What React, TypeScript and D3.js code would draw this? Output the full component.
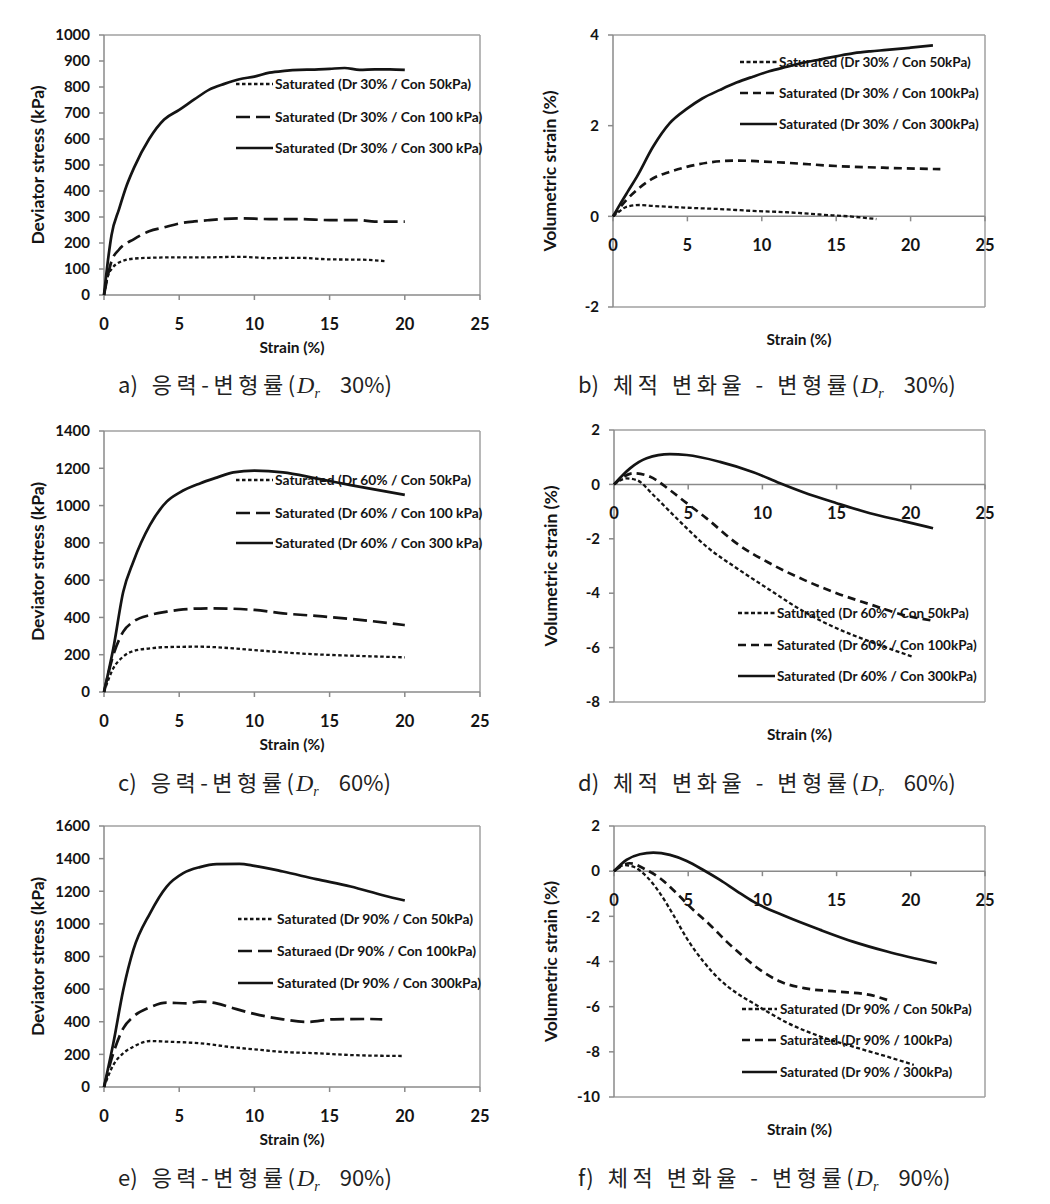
import React from "react";
import * as d3 from "d3";

type Pt = [number, number];

// ---------- data ----------
const xTicks = [0, 5, 10, 15, 20, 25];

// a) stress-strain Dr 30%
const a50: Pt[] = [[0,0],[0.3,80],[0.5,100],[1,125],[2,140],[3,143],[5,145],[7,145],[9,147],[11,142],[13,143],[15,137],[17,136],[18.8,130]];
const a100: Pt[] = [[0,0],[0.5,130],[1,175],[2,215],[3,245],[4,260],[5,275],[6,283],[7,288],[9,295],[11,292],[13,292],[15,288],[17,288],[18,282],[20,282]];
const a300: Pt[] = [[0,0],[0.3,150],[0.5,230],[1,330],[1.5,420],[2,490],[3,600],[4,675],[5,712],[6,752],[7,790],[8,812],[9,830],[10,840],[11,855],[12,862],[13,866],[14,867],[15,870],[16,873],[17,866],[18,868],[19,868],[20,866]];

// b) volumetric strain Dr 30%
const b50: Pt[] = [[0,0],[0.4,0.1],[0.9,0.21],[1.8,0.25],[2.7,0.23],[4.95,0.19],[7.2,0.16],[9.4,0.12],[11.7,0.09],[13.9,0.04],[16.2,-0.01],[17.7,-0.06]];
const b100: Pt[] = [[0,0],[0.9,0.36],[1.6,0.58],[2.7,0.84],[3.8,0.98],[4.95,1.09],[6.5,1.19],[8.3,1.23],[10,1.21],[11.7,1.18],[15,1.11],[18.4,1.07],[22,1.04]];
const b300: Pt[] = [[0,0],[0.5,0.28],[1,0.55],[1.6,0.87],[2.7,1.54],[3.8,2.05],[5,2.38],[6,2.6],[7.2,2.79],[8.3,2.95],[9.4,3.08],[10.5,3.2],[11.7,3.3],[12.8,3.39],[13.9,3.46],[15,3.53],[16.2,3.6],[17.3,3.64],[18.4,3.67],[20,3.72],[21.5,3.77]];

// c) stress-strain Dr 60%
const c50: Pt[] = [[0,0],[0.62,127],[1.28,190],[1.95,220],[3.06,234],[4.17,241],[6.38,243],[8.6,234],[10,225],[11.9,213],[14.1,202],[16.4,195],[20,186]];
const c100: Pt[] = [[0,0],[0.62,198],[1.28,324],[1.95,377],[3.06,413],[4.17,431],[5.27,443],[7.05,449],[10,440],[11.9,422],[14.1,408],[16.4,392],[20,359]];
const c300: Pt[] = [[0,0],[0.62,234],[1.28,538],[1.95,699],[3.06,896],[4.17,1021],[5.05,1071],[6.38,1119],[7.49,1150],[8.6,1178],[10,1187],[11.9,1178],[14.1,1146],[16.4,1110],[20,1057]];

// d) volumetric strain Dr 60%
const d50: Pt[] = [[0,0],[0.84,0.22],[1.53,0.16],[2.65,-0.39],[3.77,-1.0],[4.9,-1.61],[6.24,-2.29],[8.27,-3.08],[10.5,-3.88],[12.8,-4.68],[15,-5.29],[17.25,-5.78],[20.1,-6.33]];
const d100: Pt[] = [[0,0],[0.7,0.3],[1.3,0.41],[2.44,0.28],[3.77,-0.21],[4.9,-0.69],[6.24,-1.25],[8.27,-2.17],[10.5,-2.9],[12.8,-3.51],[15,-4.0],[17.25,-4.41],[19.5,-4.8],[21.5,-5.01]];
const d300: Pt[] = [[0,0],[1.08,0.59],[2.2,0.96],[3.77,1.11],[4.9,1.08],[7.14,0.83],[9.39,0.45],[11.19,0.04],[12.76,-0.29],[15,-0.69],[17.25,-1.06],[19.5,-1.35],[21.5,-1.61]];

// e) stress-strain Dr 90%
const e50: Pt[] = [[0,0],[0.62,135],[1.28,207],[1.95,247],[3.06,282],[4.17,278],[6.38,268],[8.6,243],[10,231],[11.9,215],[14.1,207],[16.4,196],[19.9,190]];
const e100: Pt[] = [[0,0],[0.62,207],[1.28,360],[1.95,431],[3.06,489],[4.17,517],[5.5,513],[6.38,523],[7.49,513],[8.6,483],[10,448],[11.9,415],[13.5,399],[15.25,415],[17.5,417],[18.5,415]];
const e300: Pt[] = [[0,0],[0.62,268],[1.28,595],[1.95,840],[3.06,1065],[4.17,1229],[5.27,1311],[6.38,1348],[7.49,1366],[9,1368],[10,1356],[11.9,1321],[14.1,1274],[16.4,1229],[18.6,1174],[20,1143]];

// f) volumetric strain Dr 90%
const f50: Pt[] = [[0,0],[0.7,0.27],[1.3,0.2],[2.2,-0.24],[3.1,-0.98],[4.0,-1.94],[4.9,-2.97],[6.02,-4.0],[7.14,-4.81],[8.27,-5.4],[9.39,-5.85],[10.5,-6.29],[11.6,-6.69],[13.9,-7.32],[16.1,-7.77],[18.4,-8.21],[20.2,-8.58]];
const f100: Pt[] = [[0,0],[1.06,0.35],[2.2,0.05],[3.1,-0.31],[4.22,-0.98],[5.35,-1.72],[6.47,-2.38],[7.59,-3.12],[8.72,-3.78],[9.84,-4.37],[11.2,-4.89],[12.8,-5.18],[15,-5.33],[17.25,-5.48],[18.4,-5.7]];
const f300: Pt[] = [[0,0],[0.84,0.5],[1.75,0.75],[2.65,0.82],[3.77,0.72],[4.9,0.45],[6.02,0.05],[7.14,-0.39],[8.27,-0.88],[9.39,-1.35],[11.6,-2.01],[13.9,-2.6],[16.1,-3.12],[18.4,-3.56],[21.75,-4.08]];

const legendA = ["Saturated (Dr 30% / Con 50kPa)", "Saturated (Dr 30% / Con 100 kPa)", "Saturated (Dr 30% / Con 300 kPa)"];
const legendB = ["Saturated (Dr 30% / Con 50kPa)", "Saturated (Dr 30% / Con 100kPa)", "Saturated (Dr 30% / Con 300kPa)"];
const legendC = ["Saturated (Dr 60% / Con 50kPa)", "Saturated (Dr 60% / Con 100 kPa)", "Saturated (Dr 60% / Con 300 kPa)"];
const legendD = ["Saturated (Dr 60% / Con 50kPa)", "Saturated (Dr 60% / Con 100kPa)", "Saturated (Dr 60% / Con 300kPa)"];
const legendE = ["Saturated (Dr 90% / Con 50kPa)", "Saturaed (Dr 90% / Con 100kPa)", "Saturated (Dr 90% / Con 300kPa)"];
const legendF = ["Saturated (Dr 90% / Con 50kPa)", "Saturated (Dr 90% / 100kPa)", "Saturated (Dr 90% / 300kPa)"];

const ticksA = [0, 100, 200, 300, 400, 500, 600, 700, 800, 900, 1000];
const ticksC = [0, 200, 400, 600, 800, 1000, 1200, 1400];
const ticksE = [0, 200, 400, 600, 800, 1000, 1200, 1400, 1600];
const ticksB = [-2, 0, 2, 4];
const ticksD = [-8, -6, -4, -2, 0, 2];
const ticksF = [-10, -8, -6, -4, -2, 0, 2];

// ---------- styling ----------
const FONT = "Lato, 'Open Sans', sans-serif";
const INK = "#141414";
const AXIS = "#8a8a8a";
const BORDER = "#a0a0a0";

interface Box { l: number; r: number; t: number; b: number; }
interface Leg { x0: number; x1: number; tx: number; ys: number[]; fs: number; }

function Panel(props: {
  box: Box; yDomain: [number, number]; yTicks: number[]; yTitle: string;
  series: Pt[][]; dashes: string[]; labels: string[]; legend: Leg; zeroAxis: boolean;
}) {
  const { box, yDomain, yTicks, yTitle, series, dashes, labels, legend, zeroAxis } = props;
  const x = d3.scaleLinear().domain([0, 25]).range([box.l, box.r]);
  const y = d3.scaleLinear().domain(yDomain).range([box.b, box.t]);
  const line = d3.line<Pt>().x(d => x(d[0])).y(d => y(d[1])).curve(d3.curveMonotoneX);
  const axisY = zeroAxis ? y(0) : box.b;
  const widths = [2.3, 2.7, 2.7];
  return (
    <g>
      {/* frame */}
      <line x1={box.l} x2={box.r} y1={box.t} y2={box.t} stroke={BORDER} strokeWidth={1.5} />
      <line x1={box.r} x2={box.r} y1={box.t} y2={box.b} stroke={BORDER} strokeWidth={1.5} />
      {zeroAxis && <line x1={box.l} x2={box.r} y1={box.b} y2={box.b} stroke={BORDER} strokeWidth={1.5} />}
      <line x1={box.l} x2={box.l} y1={box.t} y2={box.b} stroke={AXIS} strokeWidth={1.5} />
      <line x1={box.l} x2={box.r} y1={axisY} y2={axisY} stroke={AXIS} strokeWidth={1.5} />
      {/* y ticks */}
      {yTicks.map(t => (
        <g key={"y" + t}>
          <line x1={box.l - 5} x2={box.l} y1={y(t)} y2={y(t)} stroke={AXIS} strokeWidth={1.5} />
          <text x={box.l - 14} y={y(t)} dy="0.35em" textAnchor="end" fontFamily={FONT} fontWeight={700} fontSize={15} fill={INK}>{t}</text>
        </g>
      ))}
      {/* x ticks */}
      {xTicks.map(t => (
        <g key={"x" + t}>
          <line x1={x(t)} x2={x(t)} y1={axisY} y2={axisY + 5} stroke={AXIS} strokeWidth={1.5} />
          <text x={x(t)} y={axisY + 29} dy="0.35em" textAnchor="middle" fontFamily={FONT} fontWeight={700} fontSize={16.5} fill={INK}>{t}</text>
        </g>
      ))}
      {/* titles */}
      <text x={(box.l + box.r) / 2} y={zeroAxis ? box.b + 33 : box.b + 53} dy="0.35em" textAnchor="middle" fontFamily={FONT} fontWeight={700} fontSize={15.5} fill={INK}>Strain (%)</text>
      <text transform={`translate(${box.l - (zeroAxis ? 63 : 66)},${(box.t + box.b) / 2}) rotate(-90)`} dy="0.35em" textAnchor="middle" fontFamily={FONT} fontWeight={700} fontSize={17.5} fill={INK}>{yTitle}</text>
      {/* curves */}
      {series.map((s, i) => (
        <path key={"s" + i} d={line(s) || ""} fill="none" stroke={INK} strokeWidth={widths[i]} strokeDasharray={dashes[i]} strokeLinejoin="round" />
      ))}
      {/* legend */}
      {labels.map((lab, i) => (
        <g key={"l" + i}>
          <line x1={legend.x0} x2={legend.x1} y1={legend.ys[i]} y2={legend.ys[i]} stroke={INK} strokeWidth={widths[i]} strokeDasharray={dashes[i]} />
          <text x={legend.tx} y={legend.ys[i]} dy="0.35em" fontFamily={FONT} fontWeight={700} fontSize={legend.fs} fill={INK}>{lab}</text>
        </g>
      ))}
    </g>
  );
}

function Caption(props: { x: number; y: number; letter: string; body: string; pct: string }) {
  const { x, y, letter, body, pct } = props;
  return (
    <text x={x} y={y} dy="0.35em" fontFamily="'Noto Sans CJK KR', sans-serif" fontSize={22} fill="#222">
      <tspan>{letter + ")"}</tspan>
      <tspan dx={14} letterSpacing={4.5}>{body}</tspan>
      <tspan>(</tspan>
      <tspan fontFamily="'Liberation Serif', serif" fontStyle="italic" fontSize={24} dx={2}>D</tspan>
      <tspan fontFamily="'Liberation Serif', serif" fontStyle="italic" fontSize={14} dy="5">r</tspan>
      <tspan dy="-5" dx={20}>{pct + ")"}</tspan>
    </text>
  );
}

const dashStress = ["3.5,2.5", "14,6", ""];
const dashVol = ["4,2.5", "8,5", ""];

export default function App() {
  return (
    <svg width={1050} height={1204} style={{ position: "absolute", left: 0, top: 0, background: "#fff" }}>
      <rect width={1050} height={1204} fill="#fff" />
      <Panel box={{ l: 104, r: 480, t: 35, b: 295 }} yDomain={[0, 1000]} yTicks={ticksA} yTitle="Deviator stress (kPa)"
        series={[a50, a100, a300]} dashes={dashStress} labels={legendA}
        legend={{ x0: 236, x1: 273, tx: 275, ys: [84, 117, 148], fs: 13.8 }} zeroAxis={false} />
      <Panel box={{ l: 613, r: 985, t: 35, b: 307 }} yDomain={[-2, 4]} yTicks={ticksB} yTitle="Volumetric strain (%)"
        series={[b50, b100, b300]} dashes={dashVol} labels={legendB}
        legend={{ x0: 740, x1: 777, tx: 779, ys: [62, 93, 124], fs: 13.5 }} zeroAxis={true} />
      <Panel box={{ l: 104, r: 480, t: 431, b: 692 }} yDomain={[0, 1400]} yTicks={ticksC} yTitle="Deviator stress (kPa)"
        series={[c50, c100, c300]} dashes={dashStress} labels={legendC}
        legend={{ x0: 236, x1: 273, tx: 275, ys: [480, 513, 543], fs: 13.8 }} zeroAxis={false} />
      <Panel box={{ l: 614, r: 985, t: 430, b: 702 }} yDomain={[-8, 2]} yTicks={ticksD} yTitle="Volumetric strain (%)"
        series={[d50, d100, d300]} dashes={dashVol} labels={legendD}
        legend={{ x0: 738, x1: 775, tx: 777, ys: [613, 645, 676], fs: 13.5 }} zeroAxis={true} />
      <Panel box={{ l: 104, r: 480, t: 826, b: 1087 }} yDomain={[0, 1600]} yTicks={ticksE} yTitle="Deviator stress (kPa)"
        series={[e50, e100, e300]} dashes={dashStress} labels={legendE}
        legend={{ x0: 238, x1: 273, tx: 277, ys: [919, 951, 983], fs: 13.8 }} zeroAxis={false} />
      <Panel box={{ l: 614, r: 985, t: 826, b: 1097 }} yDomain={[-10, 2]} yTicks={ticksF} yTitle="Volumetric strain (%)"
        series={[f50, f100, f300]} dashes={dashVol} labels={legendF}
        legend={{ x0: 742, x1: 777, tx: 780, ys: [1009, 1040, 1072], fs: 13.5 }} zeroAxis={true} />
      <Caption x={118} y={385} letter="a" body="응력-변형률" pct="30%" />
      <Caption x={578} y={385} letter="b" body="체적 변화율 - 변형률" pct="30%" />
      <Caption x={118} y={783} letter="c" body="응력-변형률" pct="60%" />
      <Caption x={578} y={783} letter="d" body="체적 변화율 - 변형률" pct="60%" />
      <Caption x={118} y={1178} letter="e" body="응력-변형률" pct="90%" />
      <Caption x={578} y={1178} letter="f" body="체적 변화율 - 변형률" pct="90%" />
    </svg>
  );
}
